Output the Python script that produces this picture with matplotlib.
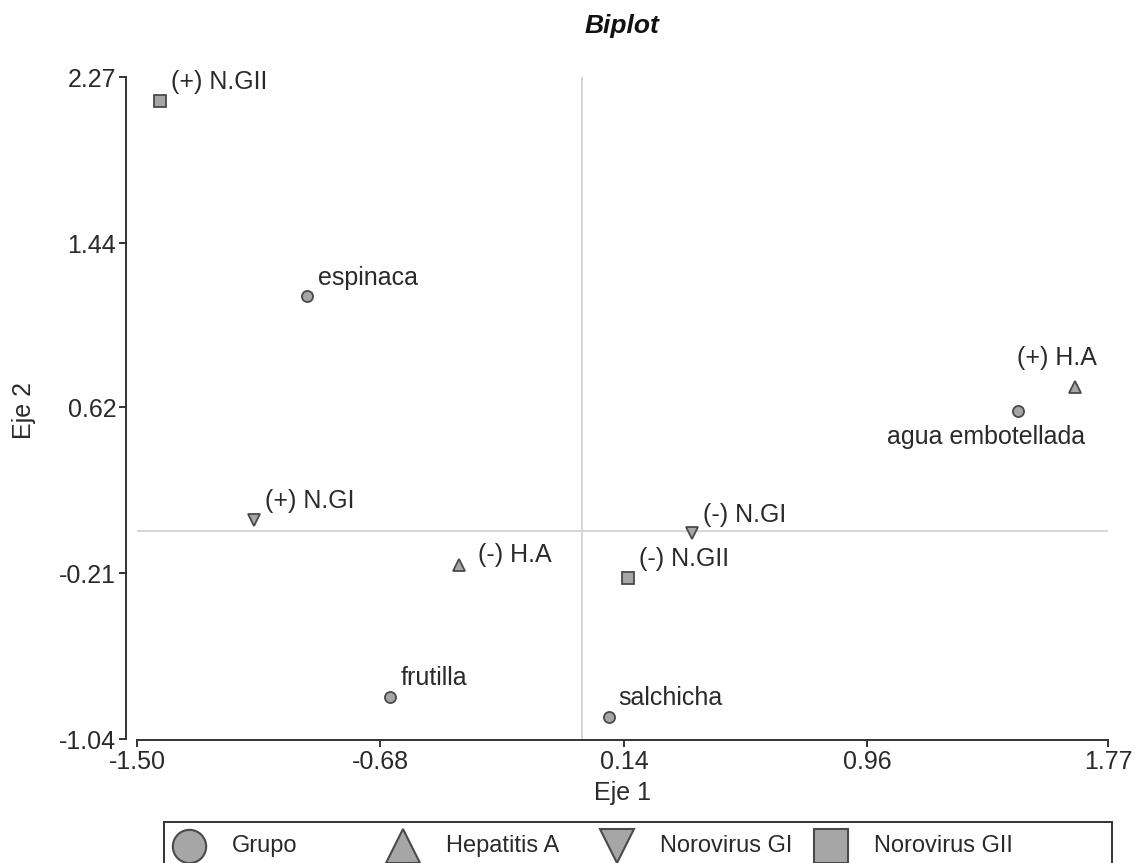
import matplotlib
matplotlib.use("Agg")
import matplotlib.pyplot as plt
from matplotlib.lines import Line2D
from matplotlib.patches import Rectangle

plt.rcParams['font.family'] = ['Liberation Sans', 'DejaVu Sans']

# ---- data ----
labels = ["(+) N.GII", "espinaca", "(+) H.A", "agua embotellada", "(+) N.GI",
          "(-) H.A", "(-) N.GI", "(-) N.GII", "frutilla", "salchicha"]
groups = ["Norovirus GII", "Grupo", "Hepatitis A", "Grupo", "Norovirus GI",
          "Hepatitis A", "Norovirus GI", "Norovirus GII", "Grupo", "Grupo"]
x_vals = [-1.423, -0.928, 1.658, 1.466, -1.106, -0.416, 0.369, 0.153, -0.648, 0.089]
y_vals = [2.150, 1.175, 0.720, 0.600, 0.055, -0.170, -0.010, -0.235, -0.830, -0.930]
x_ticks = [-1.50, -0.68, 0.14, 0.96, 1.77]
y_ticks = [-1.04, -0.21, 0.62, 1.44, 2.27]
legend_names = ["Grupo", "Hepatitis A", "Norovirus GI", "Norovirus GII"]

markers = {"Grupo": "o", "Hepatitis A": "^", "Norovirus GI": "v", "Norovirus GII": "s"}
msize = {"Grupo": 8, "Hepatitis A": 9, "Norovirus GI": 9, "Norovirus GII": 8.5}
# label offsets in points (dx, dy, ha)
offsets = {
    "(+) N.GII": (8, 14, "left"),
    "espinaca": (8, 13, "left"),
    "(+) H.A": (-13, 21, "center"),
    "agua embotellada": (-23, -19, "center"),
    "(+) N.GI": (8, 14, "left"),
    "(-) H.A": (14, 7, "left"),
    "(-) N.GI": (8, 13, "left"),
    "(-) N.GII": (8, 14, "left"),
    "frutilla": (8, 14, "left"),
    "salchicha": (7, 14, "left"),
}

fill = "#a6a6a6"
edge = "#4a4a4a"
txtc = "#2a2a2a"
W, H = 1135, 863

fig = plt.figure(figsize=(W/100, H/100), dpi=100)
ax = fig.add_axes([137/W, 1-739/H, (1108-137)/W, (739-77)/H])

ax.axvline(0, color="#d0d0d0", lw=1.2, zorder=1)
ax.axhline(0, color="#d0d0d0", lw=1.2, zorder=1)

for lab, g, xv, yv in zip(labels, groups, x_vals, y_vals):
    ax.plot([xv], [yv], marker=markers[g], ms=msize[g], mfc=fill, mec=edge,
            mew=1.3, ls="none", zorder=3)
    dx, dy, ha = offsets[lab]
    ax.annotate(lab, (xv, yv), xytext=(dx, dy), textcoords="offset points",
                ha=ha, va="center", fontsize=18, color=txtc)

ax.set_xlim(-1.50, 1.77)
ax.set_ylim(-1.04, 2.27)
ax.set_xticks(x_ticks)
ax.set_xticklabels([f"{v:.2f}" for v in x_ticks])
ax.set_yticks(y_ticks)
ax.set_yticklabels([f"{v:.2f}" for v in y_ticks])

for s in ["top", "right"]:
    ax.spines[s].set_visible(False)
ax.spines["left"].set_position(("outward", 8))
ax.spines["bottom"].set_position(("outward", 1))
for s in ["left", "bottom"]:
    ax.spines[s].set_color("#333333")
    ax.spines[s].set_linewidth(1.4)
ax.tick_params(axis="both", length=5, width=1.4, color="#333333",
               labelsize=18, labelcolor=txtc, pad=2)

ax.set_xlabel("Eje 1", fontsize=18, color=txtc)
ax.xaxis.set_label_coords(0.5 + (622 - 622.5)/971, (739-793)/662)
ax.xaxis.label.set_va("center")
ax.set_ylabel("Eje 2", fontsize=18, color=txtc)
ax.yaxis.set_label_coords((24-137)/971, (739-410)/662)
ax.yaxis.label.set_va("center")

fig.text(622/W, 1-26/H, "Biplot", ha="center", va="center",
         fontsize=19, fontweight="bold", fontstyle="italic", color="#111111")

# legend drawn as a boxed row (clipped at the figure bottom like the original)
fig.patches.append(Rectangle((164/W, -0.05), (1112-164)/W, 0.05 + (H-822)/H,
                             transform=fig.transFigure, fill=False,
                             edgecolor="#333333", lw=1.4))
leg_y = 1 - 846/H
for i, n in enumerate(legend_names):
    hx = 189 + 214*i
    fig.add_artist(Line2D([hx/W], [leg_y], marker=markers[n], ls="none",
                          ms=24, mfc=fill, mec=edge, mew=1.5,
                          transform=fig.transFigure))
    fig.text((hx + 43)/W, leg_y, n, ha="left", va="center", fontsize=17,
             color=txtc)

fig.savefig("out.png", dpi=100)
